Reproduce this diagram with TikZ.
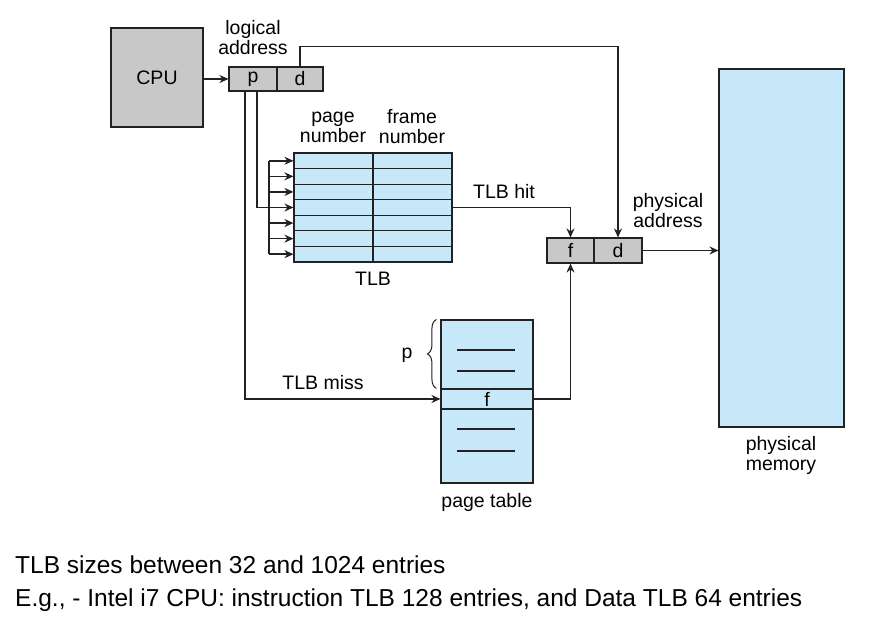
\documentclass[tikz,border=0pt]{standalone}
\usepackage{fontspec}
\setmainfont{Liberation Sans}
\usetikzlibrary{arrows.meta,decorations.pathreplacing}

\definecolor{cellgray}{RGB}{200,200,200}
\definecolor{cellblue}{RGB}{198,232,249}
\definecolor{inkline}{RGB}{34,34,34}

\tikzset{
  lbl/.style={font=\fontsize{19.5}{20}\selectfont, align=center, inner sep=0pt},
  graycell/.style={draw=inkline, fill=cellgray, line width=1.1pt, inner sep=0pt,
    font=\fontsize{19.5}{20}\selectfont},
  bluecell/.style={draw=inkline, fill=cellblue, line width=1.1pt, inner sep=0pt,
    font=\fontsize{19.5}{20}\selectfont},
  arr/.style={draw=inkline, line width=1.7pt, -{Stealth[length=9pt,width=8pt]}},
  wire/.style={draw=inkline, line width=1.7pt},
  note/.style={font=\fontsize{24.5}{26}\selectfont, anchor=base west, inner sep=0pt}
}

\begin{document}
\begin{tikzpicture}[x=1pt, y=-1pt]
        \useasboundingbox (0,0) rectangle (895,636);
        % Row height of the TLB
        \def\rowh{15.57}
        % CPU and logical address
        \node[graycell, minimum width=92pt, minimum height=99pt] (cpu) at (157,77.5) {CPU};
        \node[graycell, minimum width=48pt, minimum height=24pt] (lp) at (253,79) {p};
        \node[graycell, minimum width=46pt, minimum height=24pt] (ld) at (300,79) {d};
        \node[lbl] (logaddr) at (253,38) {logical\\address};
        % Physical address and physical memory
        \node[graycell, minimum width=47pt, minimum height=25pt] (pf) at (570.5,250.5) {f};
        \node[graycell, minimum width=48pt, minimum height=25pt] (pd) at (618,250.5) {d};
        \node[lbl] (phyaddr) at (668,211) {physical\\address};
        \node[bluecell, minimum width=125pt, minimum height=358pt] (mem) at (781.5,248) {};
        \node[lbl] (phymem) at (781,455) {physical\\memory};
        % TLB (seven rows, page number | frame number)
        \foreach \i in {1,...,7} {
          \node[bluecell, minimum width=79pt, minimum height=\rowh pt] (k\i) at (333.5,{153+\rowh*(\i-0.5)}) {};
          \node[bluecell, minimum width=79pt, minimum height=\rowh pt] (f\i) at (412.5,{153+\rowh*(\i-0.5)}) {};
          \coordinate (bus\i) at (269,{153+\rowh*(\i-0.5)});
        }
        \node[lbl] (pagenum) at (333,127) {page\\number};
        \node[lbl] (framenum) at (412,127) {frame\\number};
        \node[lbl] (tlb) at (373,279) {TLB};
        % Page table
        \node[bluecell, minimum width=92pt, minimum height=163pt] (pt) at (487,401.5) {};
        \node[bluecell, minimum width=92pt, minimum height=20pt] (ptf) at (487,399) {f};
        \foreach \y in {350,371,429,451}
          \draw[inkline, line width=1.1pt] (457,\y) -- (515,\y);
        \node[lbl] (pagetab) at (487,502) {page table};
        \coordinate (brlow) at (pt.west |- ptf.north);
        \draw[inkline, line width=1pt, decoration={brace, amplitude=9pt}, decorate]
          ([xshift=-4pt]brlow) -- ([xshift=-4pt]pt.north west);
        \node[lbl] (pbrace) at (407,355) {p};
        % Connectors
        \draw[arr] (cpu.east |- lp.west) -- (lp.west);
        \draw[arr] (ld.north) -- ++(0,-20) -| (pd.north);
        \draw[wire] ([xshift=4pt]lp.south) |- (bus4);
        \draw[wire] (bus1) -- (bus7);
        \foreach \i in {1,...,7}
          \draw[arr] (bus\i) -- (k\i.west);
        \draw[arr] (f4.east) -| (pf.north);
        \node[lbl] (hit) at (504,192) {TLB hit};
        \draw[arr] ([xshift=-8pt]lp.south) |- (ptf.west);
        \node[lbl] (miss) at (323,383) {TLB miss};
        \draw[arr] (ptf.east) -| (pf.south);
        \draw[arr] (pd.east) -- (mem.west |- pd.east);
        % Notes under the figure
        \node[note] (note1) at (15,573) {TLB sizes between 32 and 1024 entries};
        \node[note] (note2) at (15,606) {E.g., - Intel i7 CPU: instruction TLB 128 entries, and Data TLB 64 entries};
\end{tikzpicture}
\end{document}
